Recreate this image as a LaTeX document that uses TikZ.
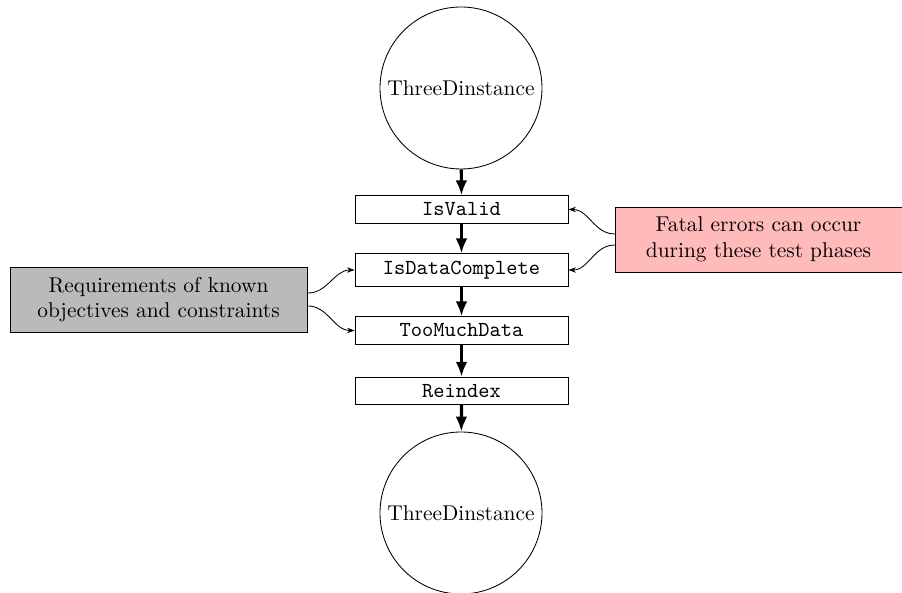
\documentclass[tikz,border=0pt]{standalone}
\usetikzlibrary{arrows.meta}
\begin{document}
\begin{tikzpicture}[x=0.46729pt,y=-0.46729pt,
  phase/.style={draw, minimum width=99.5pt, font=\ttfamily},
  inst/.style={draw, circle, minimum size=75.7pt, inner sep=0pt},
  notebox/.style={draw, minimum width=138.8pt, minimum height=30.4pt, align=center},
  flow/.style={-{Latex[length=7pt,width=5.5pt]}, line width=1.5pt},
  side/.style={-{Stealth[length=3.5pt,width=2.5pt]}, line width=0.4pt}]
\useasboundingbox (0,0) rectangle (902,593);
\node[inst] (top) at (461,88) {ThreeDinstance};
\node[phase] (valid) at (461.5,209.5) {IsValid};
\node[phase] (complete) at (461.5,270) {IsDataComplete};
\node[phase] (much) at (461.5,330.5) {TooMuchData};
\node[phase] (reindex) at (461.5,391) {Reindex};
\node[inst] (bottom) at (461,513) {ThreeDinstance};
\node[notebox, fill=black!27] (req) at (158.5,299.5) {Requirements of known\\objectives and constraints};
\node[notebox, fill=red!27, minimum width=134.1pt] (fatal) at (758.5,239.5) {Fatal errors can occur\\during these test phases};
\draw[flow] (top) -- (valid);
\draw[flow] (valid) -- (complete);
\draw[flow] (complete) -- (much);
\draw[flow] (much) -- (reindex);
\draw[flow] (reindex) -- (bottom);
\draw[side] ([yshift=2.6pt]fatal.west) to[out=180,in=0] (valid.east);
\draw[side] ([yshift=-2.6pt]fatal.west) to[out=180,in=0] (complete.east);
\draw[side] ([yshift=3pt]req.east) to[out=0,in=180] (complete.west);
\draw[side] ([yshift=-3pt]req.east) to[out=0,in=180] (much.west);
\end{tikzpicture}
\end{document}
